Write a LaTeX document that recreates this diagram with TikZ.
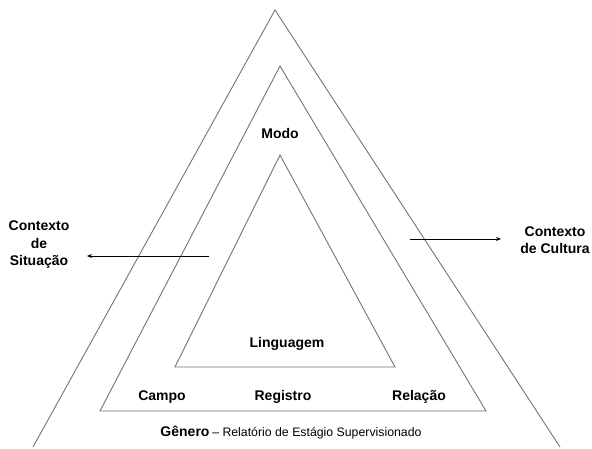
\documentclass[tikz,border=0pt]{standalone}
\usepackage{fontspec}
\setmainfont{Liberation Sans}
\usetikzlibrary{arrows.meta}
\begin{document}
\begin{tikzpicture}[x=1pt,y=-1pt,
  tri/.style={draw=black!55,line width=0.9pt,line join=miter},
  lbl/.style={font=\fontsize{14}{16.5}\selectfont\bfseries,inner sep=0pt,align=center},
  arr/.style={draw=black,line width=0.9pt,-{Stealth[length=5pt,width=4pt]}}]
\useasboundingbox (0,0) rectangle (592,449);
% outer triangle (open at bottom)
\coordinate (oL) at (33,447);
\coordinate (oT) at (275,10);
\coordinate (oR) at (560,447);
\draw[tri] (oL) -- (oT) -- (oR);
% middle triangle
\coordinate (mL) at (100,411);
\coordinate (mT) at (280,66);
\coordinate (mR) at (486,411);
\draw[tri] (mL) -- (mT) -- (mR) -- cycle;
% inner triangle
\coordinate (iL) at (175,367);
\coordinate (iT) at (280,155);
\coordinate (iR) at (395,367);
\draw[tri] (iL) -- (iT) -- (iR) -- cycle;
% labels
\node[lbl] (modo) at (280,133) {Modo};
\node[lbl] (ling) at (287,344) {Linguagem};
\node[lbl] (campo) at (162,397) {Campo};
\node[lbl] (reg) at (283,397) {Registro};
\node[lbl] (rel) at (419,397) {Relação};
\node[inner sep=0pt] (gen) at (291,433) {{\fontsize{14}{16}\selectfont\bfseries Gênero} {\fontsize{12.3}{14}\selectfont – Relatório de Estágio Supervisionado}};
\node[lbl] (sit) at (39,245) {Contexto\\[1pt]de\\[1pt]Situação};
\node[lbl] (cul) at (555,240) {Contexto\\[1pt]de Cultura};
% arrows
\coordinate (sA) at (209,256);
\coordinate (sB) at (87,256);
\coordinate (cA) at (410,239);
\coordinate (cB) at (501,239);
\draw[arr] (sA) -- (sB);
\draw[arr] (cA) -- (cB);
\end{tikzpicture}
\end{document}
